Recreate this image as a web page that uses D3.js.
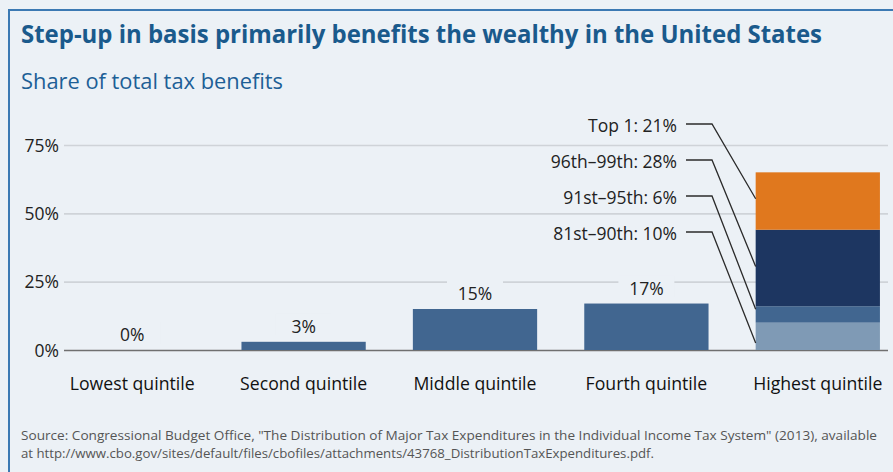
<!DOCTYPE html>
<html>
<head>
<meta charset="utf-8">
<script src="https://cdn.jsdelivr.net/npm/d3@7"></script>
<style>
  body { margin: 0; background: #ecf1f6; }
  svg { display: block; font-family: "Open Sans", "Noto Sans", sans-serif; }
</style>
</head>
<body>
<svg id="chart" width="893" height="472"></svg>
<script>
// data
const categories = ["Lowest quintile", "Second quintile", "Middle quintile", "Fourth quintile", "Highest quintile"];
const shares = [0, 3, 15, 17]; // first four quintiles
const topGroups = ["81st–90th", "91st–95th", "96th–99th", "Top 1"]; // bottom to top
const topShares = [10, 6, 28, 21];
const yTicks = [0, 25, 50, 75];

const bg = "#ecf1f6";
const barColor = "#416690";
const topColors = ["#7f9ab5", "#416690", "#1d3661", "#e0781e"];
const leaderFrac = [0.74, 0.18, 0.48, 0.46]; // where leaders hit each segment (from top)

const svg = d3.select("#chart");

// shrink text a bit so Open Sans reads close to the narrower original face
function condense(sel, ratio) {
  sel.each(function () {
    const w = this.getComputedTextLength();
    d3.select(this).attr("textLength", w * ratio).attr("lengthAdjust", "spacingAndGlyphs");
  });
}
function fitWidth(sel, w) {
  sel.attr("textLength", w).attr("lengthAdjust", "spacingAndGlyphs");
}

// frame
svg.append("path")
  .attr("d", "M9,472V10H893")
  .attr("fill", "none")
  .attr("stroke", "#3b79b3")
  .attr("stroke-width", 2);

svg.append("text")
  .attr("x", 21).attr("y", 43)
  .attr("fill", "#1a5a8c")
  .style("font-size", "25px").style("font-weight", 700)
  .text("Step-up in basis primarily benefits the wealthy in the United States")
  .call(fitWidth, 801);

svg.append("text")
  .attr("x", 21).attr("y", 89)
  .attr("fill", "#1d5f96")
  .style("font-size", "22px")
  .text("Share of total tax benefits")
  .call(fitWidth, 262);

// scales
const x = d3.scaleBand()
  .domain(categories)
  .range([46.5, 903.5])
  .paddingInner(0.275)
  .paddingOuter(0.1375);

const y = d3.scaleLinear().domain([0, 75]).range([350, 145]);
const gridLeft = 64, gridRight = 888;

// gridlines + y labels
const yAxis = svg.append("g")
  .attr("transform", `translate(${gridLeft},0)`)
  .call(d3.axisLeft(y)
    .tickValues(yTicks)
    .tickSize(-(gridRight - gridLeft))
    .tickPadding(5)
    .tickFormat(d => d + "%"));
yAxis.select(".domain").remove();
yAxis.selectAll(".tick line")
  .attr("stroke", d => d === 0 ? "#707070" : "#cfd3d8")
  .attr("stroke-width", 1.6);
yAxis.selectAll(".tick text")
  .attr("fill", "#222")
  .style("font-size", "19px")
  .style("font-family", "'Open Sans', sans-serif")
  .call(condense, 0.92);

// simple bars
const lower = categories.slice(0, 4).map((c, i) => ({ cat: c, v: shares[i] }));

svg.append("g").selectAll("rect")
  .data(lower)
  .join("rect")
  .attr("x", d => x(d.cat))
  .attr("width", x.bandwidth())
  .attr("y", d => y(d.v))
  .attr("height", d => y(0) - y(d.v))
  .attr("fill", barColor);

// value labels with knocked-out background
const vl = svg.append("g").selectAll("g")
  .data(lower)
  .join("g")
  .attr("transform", d => `translate(${x(d.cat) + x.bandwidth() / 2},${y(d.v) - 9})`);
vl.append("rect")
  .attr("x", -28).attr("width", 56)
  .attr("y", -19).attr("height", 22)
  .attr("fill", bg);
vl.append("text")
  .attr("text-anchor", "middle")
  .attr("fill", "#222")
  .style("font-size", "19px")
  .text(d => d.v + "%")
  .call(condense, 0.92);

// stacked highest quintile
const row = {};
topGroups.forEach((g, i) => row[g] = topShares[i]);
const stacked = d3.stack().keys(topGroups)([row]);
const hq = categories[4];

svg.append("g").selectAll("rect")
  .data(stacked)
  .join("rect")
  .attr("x", x(hq))
  .attr("width", x.bandwidth())
  .attr("y", d => y(d[0][1]))
  .attr("height", d => y(d[0][0]) - y(d[0][1]))
  .attr("fill", (d, i) => topColors[i]);

// leader labels, listed top-down
const labelRight = 677, lineStart = 686, lineBend = 712;
const leaders = stacked.map((d, i) => ({
  label: `${topGroups[i]}: ${topShares[i]}%`,
  target: y(d[0][1]) + leaderFrac[i] * (y(d[0][0]) - y(d[0][1])),
  row: topGroups.length - 1 - i
}));

const lg = svg.append("g").selectAll("g")
  .data(leaders)
  .join("g");
lg.append("text")
  .attr("x", labelRight)
  .attr("y", d => 125 + d.row * 36)
  .attr("dy", "0.35em")
  .attr("text-anchor", "end")
  .attr("fill", "#222")
  .style("font-size", "19px")
  .text(d => d.label)
  .call(condense, 0.92);
lg.append("path")
  .attr("d", d => {
    const ly = 124 + d.row * 36;
    return `M${lineStart},${ly}H${lineBend}L${x(hq)},${d.target}`;
  })
  .attr("fill", "none")
  .attr("stroke", "#2b2b2b")
  .attr("stroke-width", 1.3);

// category labels
svg.append("g").selectAll("text")
  .data(categories)
  .join("text")
  .attr("x", d => x(d) + x.bandwidth() / 2)
  .attr("y", 390)
  .attr("text-anchor", "middle")
  .attr("fill", "#111")
  .style("font-size", "19px")
  .text(d => d)
  .call(condense, 0.93);

// source
const src = svg.append("g").attr("fill", "#555").style("font-size", "13.5px");
src.append("text")
  .attr("x", 21).attr("y", 440)
  .text("Source: Congressional Budget Office, \"The Distribution of Major Tax Expenditures in the Individual Income Tax System\" (2013), available")
  .call(fitWidth, 856);
src.append("text")
  .attr("x", 21).attr("y", 458)
  .text("at http://www.cbo.gov/sites/default/files/cbofiles/attachments/43768_DistributionTaxExpenditures.pdf.")
  .call(fitWidth, 633);
</script>
</body>
</html>
